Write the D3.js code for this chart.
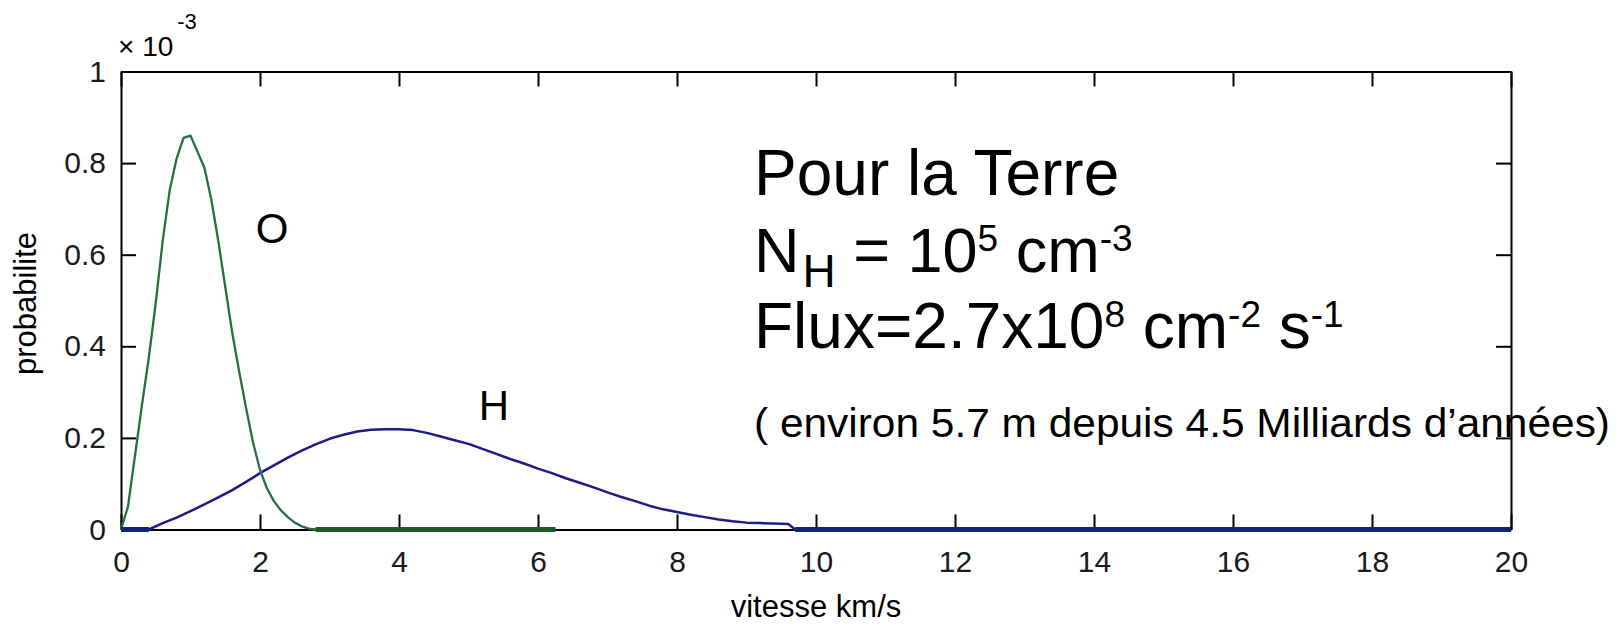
<!DOCTYPE html>
<html>
<head>
<meta charset="utf-8">
<script src="https://cdn.jsdelivr.net/npm/d3@7"></script>
<style>
  html, body { margin: 0; padding: 0; background: #fff; }
  svg { display: block; }
  .tick text { font-family: "Liberation Sans", Arial, Helvetica, sans-serif; fill: #1a1a1a; }
  .ann { font-family: "Liberation Sans", Arial, Helvetica, sans-serif; fill: #000; }
</style>
</head>
<body>
<svg id="chart" width="1624" height="626"></svg>
<script>
// ---- data (probability in units of 1e-3, speed in km/s) ----
const xTicks = [0, 2, 4, 6, 8, 10, 12, 14, 16, 18, 20];
const yTicks = [0, 0.2, 0.4, 0.6, 0.8, 1];
const yTickLabels = ["0", "0.2", "0.4", "0.6", "0.8", "1"];

const oSpeed = [0, 0.1, 0.2, 0.3, 0.4, 0.5, 0.6, 0.7, 0.8, 0.9, 1.0, 1.1, 1.2, 1.3, 1.4, 1.5, 1.6, 1.7, 1.8, 1.9, 2.0, 2.1, 2.2, 2.3, 2.4, 2.5, 2.6, 2.7, 2.8, 6.25];
const oProb  = [0, 0.05, 0.16, 0.27, 0.375, 0.495, 0.63, 0.74, 0.81, 0.855, 0.86, 0.825, 0.79, 0.72, 0.63, 0.53, 0.43, 0.345, 0.265, 0.19, 0.13, 0.09, 0.062, 0.042, 0.027, 0.015, 0.007, 0.002, 0, 0];

const hSpeed = [0, 0.2, 0.4, 0.6, 0.8, 1.0, 1.2, 1.4, 1.6, 1.8, 2.0, 2.2, 2.4, 2.6, 2.8, 3.0, 3.2, 3.4, 3.6, 3.8, 4.0, 4.2, 4.4, 4.6, 4.8, 5.0, 5.2, 5.4, 5.6, 5.8, 6.0, 6.2, 6.4, 6.6, 6.8, 7.0, 7.2, 7.4, 7.6, 7.8, 8.0, 8.2, 8.4, 8.6, 8.8, 9.0, 9.2, 9.4, 9.6, 9.7, 20];
const hProb  = [0, 0, 0, 0.014, 0.026, 0.040, 0.055, 0.070, 0.086, 0.104, 0.123, 0.140, 0.157, 0.172, 0.186, 0.198, 0.207, 0.214, 0.218, 0.219, 0.219, 0.217, 0.211, 0.203, 0.195, 0.187, 0.176, 0.165, 0.154, 0.144, 0.133, 0.123, 0.112, 0.102, 0.092, 0.081, 0.071, 0.062, 0.052, 0.044, 0.038, 0.032, 0.027, 0.022, 0.018, 0.015, 0.014, 0.013, 0.012, 0, 0];

const xLabel = "vitesse km/s";
const yLabel = "probabilite";
const curveLabels = ["O", "H"];

// ---- layout ----
const svg = d3.select("#chart");
const L = 121, R = 1511, T = 71.5, B = 529.5;
const x = d3.scaleLinear().domain([0, 20]).range([L, R]);
const y = d3.scaleLinear().domain([0, 1]).range([B, T]);

const font = '"Liberation Sans", Arial, Helvetica, sans-serif';

function styleAxis(g) {
  g.selectAll(".domain").attr("stroke", "#000").attr("stroke-width", 2);
  g.selectAll(".tick line").attr("stroke", "#000").attr("stroke-width", 2);
}

// bottom
svg.append("g").attr("transform", `translate(0,${B})`)
  .call(d3.axisBottom(x).tickValues(xTicks).tickSize(-15).tickSizeOuter(0).tickPadding(21).tickFormat(d3.format("d")))
  .call(styleAxis)
  .call(g => g.selectAll(".tick text").attr("font-size", 30).attr("font-family", font));
// top
svg.append("g").attr("transform", `translate(0,${T})`)
  .call(d3.axisTop(x).tickValues(xTicks).tickSize(-15).tickSizeOuter(0).tickFormat(""))
  .call(styleAxis);
// left
svg.append("g").attr("transform", `translate(${L},0)`)
  .call(d3.axisLeft(y).tickValues(yTicks).tickSize(-15).tickSizeOuter(0).tickPadding(15)
        .tickFormat((d, i) => yTickLabels[i]))
  .call(styleAxis)
  .call(g => g.selectAll(".tick text").attr("font-size", 30).attr("font-family", font));
// right
svg.append("g").attr("transform", `translate(${R},0)`)
  .call(d3.axisRight(y).tickValues(yTicks).tickSize(-15).tickSizeOuter(0).tickFormat(""))
  .call(styleAxis);

// ---- curves ----
const oData = oSpeed.map((v, i) => ({ v, p: oProb[i] }));
const hData = hSpeed.map((v, i) => ({ v, p: hProb[i] }));
const line = d3.line().x(d => x(d.v)).y(d => y(d.p));
const zeroLine = d3.line().defined(d => d.p === 0).x(d => x(d.v)).y(d => y(d.p));

svg.append("path").datum(hData).attr("d", line)
  .attr("fill", "none").attr("stroke", "#1c1c84").attr("stroke-width", 2.5).attr("stroke-linejoin", "round");
svg.append("path").datum(oData).attr("d", line)
  .attr("fill", "none").attr("stroke", "#26703f").attr("stroke-width", 2.3).attr("stroke-linejoin", "round");
// runs lying on the zero line look thicker in the original
svg.append("path").datum(oData).attr("d", zeroLine)
  .attr("fill", "none").attr("stroke", "#1d5a24").attr("stroke-width", 5);
svg.append("path").datum(hData).attr("d", zeroLine)
  .attr("fill", "none").attr("stroke", "#13207e").attr("stroke-width", 5);

// ---- axis labels ----
svg.append("text").attr("class", "ann").attr("x", (L + R) / 2).attr("y", 617)
  .attr("text-anchor", "middle").attr("font-size", 31).attr("fill", "#1a1a1a").text(xLabel);
svg.append("text").attr("class", "ann")
  .attr("transform", `translate(36,${(T + B) / 2 + 3}) rotate(-90)`)
  .attr("text-anchor", "middle").attr("font-size", 31).attr("fill", "#1a1a1a").text(yLabel);

// exponent marker
const ex = svg.append("text").attr("class", "ann").attr("x", 118).attr("y", 56).attr("font-size", 28).attr("fill", "#1a1a1a");
ex.append("tspan").text("\u00d7 10");
ex.append("tspan").attr("dx", 4).attr("dy", -27).attr("font-size", 22).text("-3");

// curve labels
svg.append("text").attr("class", "ann").attr("x", 272).attr("y", 243)
  .attr("text-anchor", "middle").attr("font-size", 42).text(curveLabels[0]);
svg.append("text").attr("class", "ann").attr("x", 494).attr("y", 420)
  .attr("text-anchor", "middle").attr("font-size", 42).text(curveLabels[1]);

// ---- annotation block ----
const ax = 754;
svg.append("text").attr("class", "ann").attr("x", ax).attr("y", 195).attr("font-size", 64).text("Pour la Terre");

const l2 = svg.append("text").attr("class", "ann").attr("x", ax).attr("y", 272).attr("font-size", 63);
l2.append("tspan").text("N");
l2.append("tspan").attr("font-size", 46).attr("dx", 3).attr("dy", 15).text("H");
l2.append("tspan").attr("dy", -15).text(" = 10");
l2.append("tspan").attr("font-size", 37).attr("dy", -21).text("5");
l2.append("tspan").attr("dy", 21).text(" cm");
l2.append("tspan").attr("font-size", 37).attr("dy", -21).text("-3");

const l3 = svg.append("text").attr("class", "ann").attr("x", ax).attr("y", 348).attr("font-size", 64);
l3.append("tspan").text("Flux=2.7x10");
l3.append("tspan").attr("font-size", 37).attr("dy", -21).text("8");
l3.append("tspan").attr("dy", 21).text(" cm");
l3.append("tspan").attr("font-size", 37).attr("dy", -21).text("-2");
l3.append("tspan").attr("dy", 21).text(" s");
l3.append("tspan").attr("font-size", 37).attr("dy", -21).text("-1");

svg.append("text").attr("class", "ann").attr("x", ax).attr("y", 437).attr("font-size", 41)
  .attr("textLength", 856).attr("lengthAdjust", "spacingAndGlyphs")
  .text("( environ 5.7 m depuis 4.5 Milliards d\u2019ann\u00e9es)");
</script>
</body>
</html>
